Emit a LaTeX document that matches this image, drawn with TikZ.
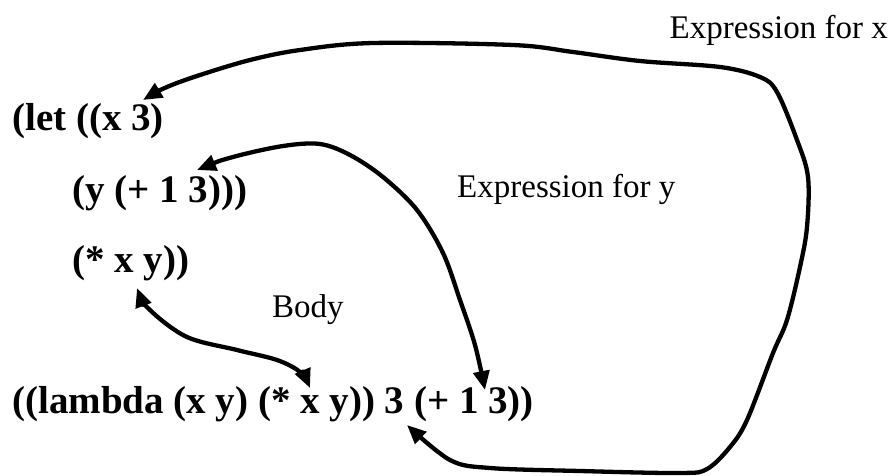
\documentclass[tikz,border=0pt]{standalone}
\usepackage{fontspec}
\setmainfont{Liberation Serif}
\usetikzlibrary{arrows.meta}
\tikzset{
  code/.style={inner sep=0pt, anchor=base west, font=\fontsize{39}{45}\selectfont\bfseries},
  lbl/.style={inner sep=0pt, font=\fontsize{33}{38}\selectfont},
  link/.style={line width=4.3pt, line cap=round, line join=round,
    {Triangle[length=19pt,width=16pt]}-{Triangle[length=19pt,width=16pt]}},
}
\begin{document}
\begin{tikzpicture}[x=1pt,y=-1pt]
\useasboundingbox (0,0) rectangle (894,475);
% code lines
\node[code] (l1) at (12,130) {(let ((x 3)};
\node[code] (l2) at (72,202) {(y (+ 1 3)))};
\node[code] (l3) at (72,272) {(* x y))};
\node[code] (l4) at (12,413) {((lambda (x y) (* x y)) 3 (+ 1 3))};
% labels
\node[lbl, anchor=base east] (lx) at (888,38) {Expression for x};
\node[lbl, anchor=base west] (ly) at (457,197) {Expression for y};
\node[lbl, anchor=base west] (lb) at (272,317) {Body};
% arrow tip coordinates
\coordinate (x3top) at (143,100);
\coordinate (x3bot) at (407,425);
\coordinate (y3top) at (197,170);
\coordinate (y3bot) at (485,390);
\coordinate (bodytop) at (137,288);
\coordinate (bodybot) at (310,388);
% connectors
\draw[link] plot[smooth, tension=0.55] coordinates {
  (x3top) (167,87) (200,75) (250,60) (300,50) (373,43) (513,45) (573,52)
  (640,61) (720,67) (760,77) (777,92) (797,140) (808,177) (807,227)
  (800,267) (787,320) (773,353) (747,420) (730,447) (707,469) (680,473)
  (580,471) (490,468) (450,460) (x3bot)};
\draw[link] plot[smooth, tension=0.55] coordinates {
  (y3top) (233,157) (283,146) (320,144) (350,155) (383,177) (417,210)
  (443,253) (460,300) (475,345) (y3bot)};
\draw[link] plot[smooth, tension=0.55] coordinates {
  (bodytop) (150,310) (187,337) (237,350) (277,360) (300,372) (bodybot)};
\end{tikzpicture}
\end{document}
